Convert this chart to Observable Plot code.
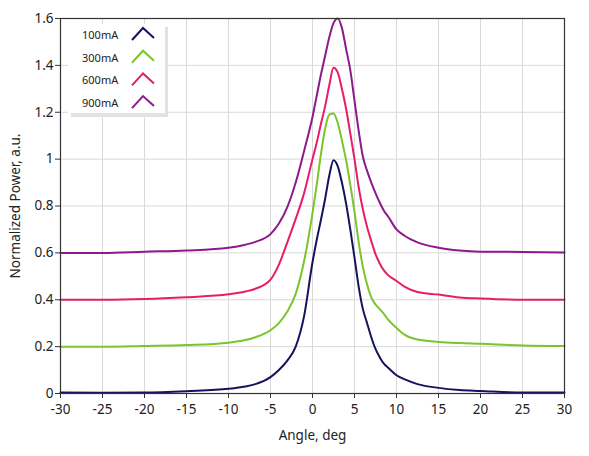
<!DOCTYPE html>
<html><head><meta charset="utf-8">
<script src="https://cdn.jsdelivr.net/npm/d3@7"></script>
<script src="https://cdn.jsdelivr.net/npm/@observablehq/plot@0.6"></script>
<style>body{margin:0;background:#fff}</style>
</head><body><div id="chart"></div>
<script>
const angles = [-30,-25,-20,-15,-10,-8,-6.8,-5,-4,-3,-2,-1,0,0.5,1,1.5,2,2.5,3,3.5,4,4.5,5,5.5,6,6.5,7,7.5,8,8.5,9,10,11,12.5,15,17.5,20,25,30];
const p100 = [0.004,0.003,0.004,0.01,0.02,0.03,0.04,0.07,0.1,0.14,0.2,0.33,0.56,0.655,0.74,0.83,0.93,0.995,0.97,0.9,0.81,0.7,0.58,0.455,0.36,0.3,0.24,0.19,0.155,0.127,0.11,0.078,0.06,0.04,0.024,0.015,0.011,0.004,0.004];
const p300 = [0.2,0.2,0.203,0.207,0.217,0.228,0.24,0.27,0.3,0.35,0.425,0.565,0.77,0.89,1.02,1.13,1.19,1.195,1.155,1.08,0.995,0.89,0.775,0.645,0.54,0.465,0.41,0.38,0.36,0.34,0.315,0.28,0.25,0.23,0.22,0.215,0.212,0.205,0.203];
const p600 = [0.4,0.4,0.403,0.411,0.423,0.435,0.447,0.486,0.55,0.645,0.745,0.855,1.0,1.07,1.15,1.225,1.315,1.39,1.37,1.3,1.215,1.11,1.0,0.88,0.785,0.71,0.65,0.595,0.555,0.525,0.505,0.48,0.455,0.433,0.422,0.41,0.405,0.4,0.4];
const p900 = [0.6,0.6,0.605,0.61,0.622,0.635,0.647,0.68,0.725,0.795,0.9,1.035,1.18,1.27,1.36,1.44,1.52,1.58,1.6,1.56,1.47,1.38,1.25,1.12,1.01,0.95,0.9,0.855,0.815,0.78,0.755,0.7,0.672,0.645,0.622,0.61,0.605,0.604,0.602];
const seriesNames = ["100mA","300mA","600mA","900mA"];
const seriesColors = ["#14145e","#79c52b","#e81c6a","#8c1a8c"];
const xTicks = [-30,-25,-20,-15,-10,-5,0,5,10,15,20,25,30];
const yTicks = [0,0.2,0.4,0.6,0.8,1,1.2,1.4,1.6];
const xLabel = "Angle, deg";
const yLabel = "Normalized Power, a.u.";

const rows = [];
[p100,p300,p600,p900].forEach((vals,i)=>vals.forEach((v,j)=>rows.push({angle:angles[j],power:v,series:seriesNames[i]})));

const font = "Noto Sans";
const chart = Plot.plot({
  width:589, height:456, marginLeft:60, marginRight:25, marginTop:18, marginBottom:63,
  style:{fontFamily:font, fontSize:"13px", color:"#222", background:"#fff"},
  x:{domain:[-30,30]},
  y:{domain:[0,1.6]},
  color:{domain:seriesNames, range:seriesColors},
  marks:[
    Plot.gridX(xTicks,{stroke:"#d9d9d9", strokeOpacity:1}),
    Plot.gridY(yTicks,{stroke:"#d9d9d9", strokeOpacity:1}),
    Plot.lineY(rows,{x:"angle", y:"power", stroke:"series", strokeWidth:2, curve:"monotone-x"}),
    Plot.frame({stroke:"#333", strokeWidth:1.2}),
    Plot.axisX(xTicks,{tickFormat:d=>String(d), tickSize:5, tickPadding:6, stroke:"#333", fontSize:13.5, label:xLabel, labelAnchor:"center", labelArrow:"none", labelOffset:46}),
    Plot.axisY(yTicks,{tickFormat:d=>String(d), tickSize:5, tickPadding:2, stroke:"#333", fontSize:13.5, label:yLabel, labelAnchor:"center", labelArrow:"none", labelOffset:50})
  ]
});
document.getElementById("chart").appendChild(chart);

// legend inside the plot
const svg = d3.select(chart);
const lg = svg.append("g");
lg.append("rect").attr("x",71).attr("y",27).attr("width",97).attr("height",90).attr("fill","#e2e2e2");
lg.append("rect").attr("x",68).attr("y",24).attr("width",97).attr("height",89).attr("fill","#fff");
seriesNames.forEach((name,i)=>{
  const y0 = 35 + i*22.7;
  lg.append("text").attr("x",82).attr("y",y0).attr("dy","0.35em").attr("text-anchor","start")
    .attr("font-family",font).attr("font-size","11px").attr("fill","#222").text(name);
  lg.append("polyline").attr("points",`132,${y0+5} 143,${y0-7} 154,${y0+3}`)
    .attr("fill","none").attr("stroke",seriesColors[i]).attr("stroke-width",2);
});
</script>
</body></html>
